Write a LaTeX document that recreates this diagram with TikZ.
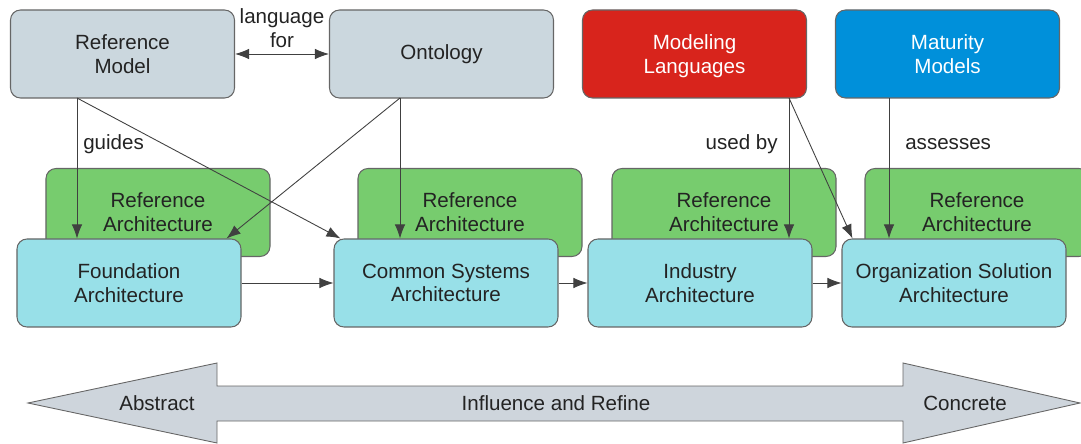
\documentclass[tikz,border=0pt]{standalone}
\usepackage{fontspec}
\setmainfont{Liberation Sans}
\usetikzlibrary{arrows.meta,calc}
\tikzset{>={Latex[length=8pt,width=6pt]}}
\definecolor{modelgray}{RGB}{203,215,222}
\definecolor{refgreen}{RGB}{119,204,110}
\definecolor{archcyan}{RGB}{152,224,232}
\definecolor{langred}{RGB}{216,36,28}
\definecolor{matblue}{RGB}{0,144,218}
\definecolor{bandgray}{RGB}{206,213,220}
\definecolor{inkgray}{RGB}{35,35,35}
\tikzset{
  lbl/.style={font=\fontsize{11.7}{13.5}\selectfont, text=inkgray, align=center},
  box/.style={lbl, draw=black!60, line width=0.6pt, rounded corners=2mm,
    minimum width=4.48cm, minimum height=1.76cm},
  modelbox/.style={box, fill=modelgray},
  refbox/.style={box, fill=refgreen},
  archbox/.style={box, fill=archcyan},
  link/.style={draw=black!75, line width=0.5pt}
}

\begin{document}
\begin{tikzpicture}[x=0.2mm, y=-0.2mm]
		\useasboundingbox (0,0) rectangle (1081,444);

		% Top row
		\node[modelbox] (refmodel) at (122.5,54) {Reference\\Model};
		\node[modelbox] (onto) at (441.5,54) {Ontology};
		\node[box, fill=langred, text=white] (modlang) at (694.5,54) {Modeling\\\smash{Languages}};
		\node[box, fill=matblue, text=white] (matur) at (947.5,54) {Maturity\\Models};

		% Reference architectures (behind)
		\node[refbox] (ra1) at (158,212.5) {Reference\\Architecture};
		\node[refbox] (ra2) at (470,212.5) {Reference\\Architecture};
		\node[refbox] (ra3) at (724,212.5) {Reference\\Architecture};
		\node[refbox] (ra4) at (977,212.5) {Reference\\Architecture};

		% Architectures
		\node[archbox] (found) at (129,283) {Foundation\\Architecture};
		\node[archbox] (common) at (446,283) {Common Systems\\Architecture};
		\node[archbox] (industry) at (700,283) {Industry\\Architecture};
		\node[archbox] (orgsol) at (954,283) {Organization Solution\\Architecture};

		% Exit points
		\coordinate (rm-out) at (77,98);
		\coordinate (on-out) at (400,98);
		\coordinate (ml-out) at (789,98);
		\coordinate (mm-out) at (889,98);

		% Connectors
		\draw[link,<->] (refmodel.east) -- node[lbl, above] (langfor) {language\\for} (onto.west);
		\draw[link,->] (rm-out) -- node[lbl, right, pos=0.33] (guides) {guides} (rm-out |- found.north);
		\draw[link,->] (rm-out) -- ($(common.north west)+(7,0)$);
		\draw[link,->] (on-out) -- ($(found.north east)+(-15,0)$);
		\draw[link,->] (on-out) -- (on-out |- common.north);
		\draw[link,->] (ml-out) -- node[lbl, left, pos=0.33, xshift=-1mm] (usedby) {used by} (ml-out |- industry.north);
		\draw[link,->] (ml-out) -- ($(orgsol.north west)+(11,0)$);
		\draw[link,->] (mm-out) -- node[lbl, right, pos=0.33, xshift=2mm] (assess) {assesses} (mm-out |- orgsol.north);
		\draw[link,->] (found.east) -- (common.west);
		\draw[link,->] (common.east) -- (industry.west);
		\draw[link,->] (industry.east) -- (orgsol.west);

		% Influence band
		\draw[draw=black!60, line width=0.5pt, fill=bandgray] (28,403) -- (217,363) -- (217,386) -- (903,386) -- (903,363) -- (1080,403) -- (903,443) -- (903,421) -- (217,421) -- (217,443) -- cycle;
		\node[lbl] (abstract) at (157,403) {Abstract};
		\node[lbl] (influence) at (556,403) {Influence and Refine};
		\node[lbl] (concrete) at (965,403) {Concrete};
	\end{tikzpicture}
\end{document}
